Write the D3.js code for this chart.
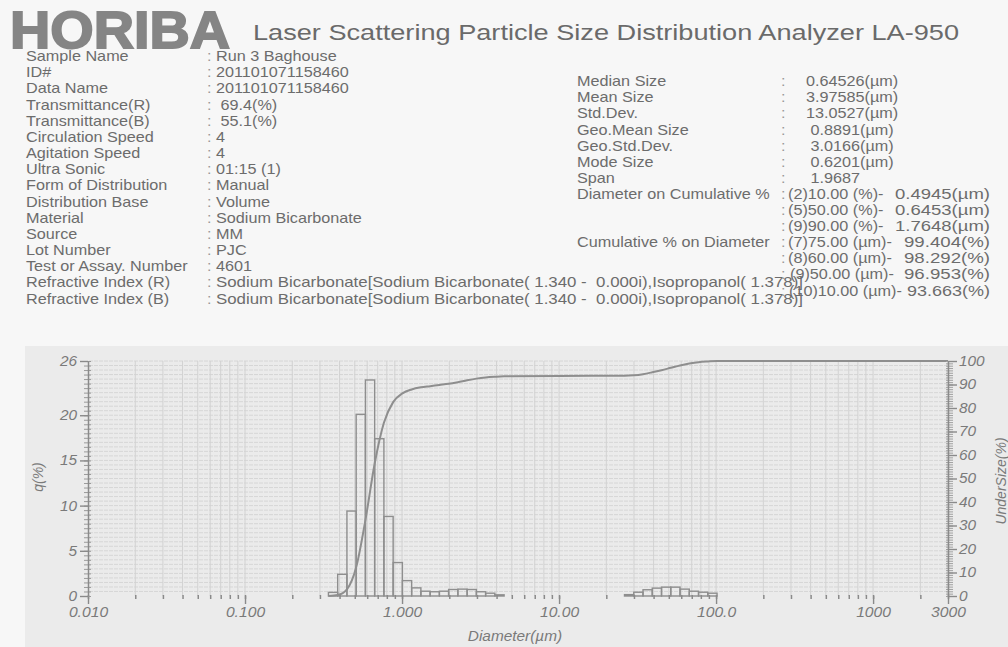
<!DOCTYPE html>
<html><head><meta charset="utf-8">
<script src="https://cdn.jsdelivr.net/npm/d3@7"></script>
<style>
body{margin:0;background:#f7f7f7;}
svg{display:block;font-family:'Liberation Sans',Arial,sans-serif;}
text{white-space:pre;}
</style>
</head><body>
<svg id="c" width="1008" height="647"></svg>
<script>
// ---------------- data ----------------
const titleText = "Laser Scattering Particle Size Distribution Analyzer LA-950";
const brandText = "HORIBA";

const infoLabels = ["Sample Name","ID#","Data Name","Transmittance(R)","Transmittance(B)","Circulation Speed","Agitation Speed","Ultra Sonic","Form of Distribution","Distribution Base","Material","Source","Lot Number","Test or Assay. Number","Refractive Index (R)","Refractive Index (B)"];
const infoValues = ["Run 3 Baghouse","201101071158460","201101071158460"," 69.4(%)"," 55.1(%)","4","4","01:15 (1)","Manual","Volume","Sodium Bicarbonate","MM","PJC","4601",
  "Sodium Bicarbonate[Sodium Bicarbonate( 1.340 -  0.000i),Isopropanol( 1.378)]",
  "Sodium Bicarbonate[Sodium Bicarbonate( 1.340 -  0.000i),Isopropanol( 1.378)]"];

const statLabels = ["Median Size","Mean Size","Std.Dev.","Geo.Mean Size","Geo.Std.Dev.","Mode Size","Span"];
const statValues = ["0.64526(\u00b5m)","3.97585(\u00b5m)","13.0527(\u00b5m)"," 0.8891(\u00b5m)"," 3.0166(\u00b5m)"," 0.6201(\u00b5m)"," 1.9687"];
const cumRowLabels = ["Diameter on Cumulative %","","","Cumulative % on Diameter","","",""];
const cumRowKeys = ["(2)10.00 (%)-","(5)50.00 (%)-","(9)90.00 (%)-","(7)75.00 (\u00b5m)-","(8)60.00 (\u00b5m)-","(9)50.00 (\u00b5m)-","(10)10.00 (\u00b5m)-"];
const cumRowValues = ["0.4945(\u00b5m)","0.6453(\u00b5m)","1.7648(\u00b5m)","99.404(%)","98.292(%)","96.953(%)","93.663(%)"];

// histogram channels (um) and frequency q(%)
const binLow  = [0.3398,0.3892,0.4457,0.5104,0.5845,0.6692,0.7665,0.8778,1.0054,1.1514,1.3185,1.5100,1.7293,1.9805,2.2681,2.5975,2.9748,3.4068,3.9016,
                 26.111,29.907,34.255,39.234,44.938,51.471,58.953,67.523,77.339,88.583];
const binHigh = [0.3892,0.4457,0.5104,0.5845,0.6692,0.7665,0.8778,1.0054,1.1514,1.3185,1.5100,1.7293,1.9805,2.2681,2.5975,2.9748,3.4068,3.9016,4.4683,
                 29.907,34.255,39.234,44.938,51.471,58.953,67.523,77.339,88.583,101.46];
const qPct    = [0.4,2.4,9.4,20.1,23.9,17.4,8.8,3.7,1.7,0.9,0.53,0.47,0.53,0.72,0.76,0.72,0.47,0.31,0.13,
                 0.15,0.42,0.69,0.87,0.98,0.98,0.76,0.53,0.42,0.31];

// cumulative undersize (%)
const cumDiam = [0.3398,0.3892,0.4457,0.5104,0.5845,0.6692,0.7665,0.8778,1.0054,1.1514,1.3185,1.5100,1.7293,1.9805,2.2681,2.5975,2.9748,3.4068,3.9016,4.4683,10,26.111,29.907,34.255,39.234,44.938,51.471,58.953,67.523,77.339,88.583,101.46,3000];
const cumPct  = [0,0.4,2.8,12.2,32.3,56.3,73.7,82.5,86.2,87.9,88.8,89.3,89.8,90.3,91.0,91.8,92.5,93.0,93.3,93.5,93.66,93.7,93.9,94.4,95.2,96.1,97.1,98.1,98.9,99.5,99.8,100,100];

const xTickVals = [0.01,0.1,1,10,100,1000,3000];
const xTickText = ["0.010","0.100","1.000","10.00","100.0","1000","3000"];
const qTickVals = [0,5,10,15,20,26];
const uTickVals = [0,10,20,30,40,50,60,70,80,90,100];

// ---------------- drawing ----------------
const svg = d3.select("#c");
const TXT = "#6c6c6c";
const SX = 1.08;

function T(x, y, s, o = {}) {
  const sx = o.sx || SX;
  const t = svg.append("text")
    .attr("transform", `translate(${x},${y}) scale(${sx},1)`)
    .attr("font-size", o.size || 15)
    .attr("fill", o.fill || TXT)
    .attr("text-anchor", o.anchor || "start")
    .text(s);
  if (o.italic) t.attr("font-style", "italic");
  if (o.len) t.attr("textLength", o.len / sx).attr("lengthAdjust", "spacingAndGlyphs");
  return t;
}

// header
svg.append("text").attr("x", 10).attr("y", 48)
  .attr("font-size", 51).attr("font-weight", "bold")
  .attr("fill", "#858585").attr("stroke", "#858585").attr("stroke-width", 1.8)
  .attr("textLength", 220).attr("lengthAdjust", "spacingAndGlyphs")
  .text(brandText);
svg.append("text").attr("x", 253).attr("y", 39.5)
  .attr("font-size", 22.5).attr("fill", "#6a6a6a")
  .attr("textLength", 706).attr("lengthAdjust", "spacingAndGlyphs")
  .text(titleText);

// left info table
infoLabels.forEach((s, i) => {
  const y = 61 + i * 16.17;
  T(26, y, s);
  T(207, y, ":", { fill: "#9a9a9a" });
  T(216, y, infoValues[i], i >= 14 ? { len: 587 } : {});
});

// right stats table
statLabels.forEach((s, i) => {
  const y = 86.2 + i * 16.1;
  T(577, y, s);
  T(781, y, ":", { fill: "#9a9a9a" });
  T(806, y, statValues[i]);
});
const keyStart = [788, 788, 788, 788, 788, 790, 789];
const valStart = [895, 895, 895, 904, 904, 904, 907];
cumRowKeys.forEach((s, i) => {
  const y = 86.2 + (7 + i) * 16.1;
  if (cumRowLabels[i]) T(577, y, cumRowLabels[i]);
  T(781, y, ":", { fill: "#9a9a9a" });
  T(keyStart[i], y, s);
  T(valStart[i], y, cumRowValues[i], { len: 990 - valStart[i] });
});

// chart panel
svg.append("rect").attr("x", 25).attr("y", 346).attr("width", 983).attr("height", 301).attr("fill", "#ebebeb");

const x = d3.scaleLog().domain([0.01, 3000]).range([88, 948]);
const yL = d3.scaleLinear().domain([0, 26]).range([596, 361]);
const yR = d3.scaleLinear().domain([0, 100]).range([596, 361]);

// grid
const minorX = [];
[0.01, 0.1, 1, 10, 100, 1000].forEach(d => { for (let m = 1; m <= 9; m++) { const v = +(m * d).toPrecision(3); if (v <= 3000) minorX.push(v); } });
const hGrid = d3.range(0.5, 26.01, 0.5);
svg.append("g").selectAll("line").data(hGrid).join("line")
  .attr("x1", 89).attr("x2", 947).attr("y1", d => yL(d)).attr("y2", d => yL(d))
  .attr("stroke", "#d6d6d6").attr("stroke-width", 1).attr("stroke-dasharray", "4,1");
svg.append("g").selectAll("line").data(minorX.filter(v => v > 0.01)).join("line")
  .attr("x1", d => x(d)).attr("x2", d => x(d)).attr("y1", 361).attr("y2", 596)
  .attr("stroke", "#d2d2d2").attr("stroke-width", 1);

// histogram bars
const bins = binLow.map((lo, i) => ({ lo, hi: binHigh[i], q: qPct[i] }));
svg.append("g").selectAll("rect").data(bins).join("rect")
  .attr("x", d => x(d.lo)).attr("width", d => x(d.hi) - x(d.lo))
  .attr("y", d => yL(d.q)).attr("height", d => yL(0) - yL(d.q))
  .attr("fill", "none").attr("stroke", "#8e8e8e").attr("stroke-width", 1.4);

// cumulative curve
const cum = cumDiam.map((d, i) => ({ d, c: cumPct[i] }));
svg.append("path").datum(cum)
  .attr("d", d3.line().x(d => x(d.d)).y(d => yR(d.c)).curve(d3.curveMonotoneX))
  .attr("fill", "none").attr("stroke", "#8e8e8e").attr("stroke-width", 2);

function styleAxis(g, sx) {
  g.selectAll("path.domain").attr("stroke", "#8a8a8a").attr("stroke-width", 1.5);
  g.selectAll(".tick line").attr("stroke", "#8a8a8a").attr("stroke-width", 1.4);
  g.selectAll(".tick text").attr("fill", "#7a7a7a").attr("font-size", 14).attr("font-style", "italic")
    .attr("font-family", "'Liberation Sans',Arial,sans-serif").attr("transform", `scale(${sx},1)`);
}

// x axis
const gxm = svg.append("g").attr("transform", "translate(0,595)")
  .call(d3.axisBottom(x).tickValues(minorX).tickSize(4).tickFormat(""));
gxm.select("path.domain").remove();
gxm.selectAll(".tick line").attr("stroke", "#8a8a8a").attr("stroke-width", 1.5);
const gx = svg.append("g").attr("transform", "translate(0,596)")
  .call(d3.axisBottom(x).tickValues(xTickVals).tickSize(8).tickPadding(3)
    .tickFormat((d, i) => xTickText[i]));
gx.select("path.domain").remove();
styleAxis(gx, 1.12);

// left axis
const glm = svg.append("g").attr("transform", "translate(91,0)")
  .call(d3.axisLeft(yL).tickValues(d3.range(0, 26.01, 0.5)).tickSize(7).tickFormat("").tickSizeOuter(0));
glm.select("path.domain").remove();
glm.selectAll(".tick line").attr("stroke", "#9a9a9a").attr("stroke-width", 1);
const gl = svg.append("g").attr("transform", "translate(88,0)")
  .call(d3.axisLeft(yL).tickValues(qTickVals).tickSize(8).tickPadding(2).tickSizeOuter(0).tickFormat(d3.format("d")));
styleAxis(gl, 1.1);

// right axis
const grm = svg.append("g").attr("transform", "translate(946,0)")
  .call(d3.axisRight(yR).tickValues(d3.range(0, 100.1, 1)).tickSize(7).tickFormat("").tickSizeOuter(0));
grm.select("path.domain").remove();
grm.selectAll(".tick line").attr("stroke", "#a0a0a0").attr("stroke-width", 1);
const gr = svg.append("g").attr("transform", "translate(948,0)")
  .call(d3.axisRight(yR).tickValues(uTickVals).tickSize(9).tickPadding(1).tickSizeOuter(0).tickFormat(d3.format("d")));
styleAxis(gr, 1.1);

// axis titles
T(515, 641, "Diameter(\u00b5m)", { size: 14, italic: true, anchor: "middle", fill: "#7a7a7a", sx: 1.1 });
svg.append("text").attr("transform", "translate(43,477) rotate(-90)")
  .attr("text-anchor", "middle").attr("font-size", 14).attr("font-style", "italic").attr("fill", "#7a7a7a")
  .text("q(%)");
svg.append("text").attr("transform", "translate(1006,481) rotate(-90)")
  .attr("text-anchor", "middle").attr("font-size", 14).attr("font-style", "italic").attr("fill", "#7a7a7a")
  .text("UnderSize(%)");
</script>
</body></html>
